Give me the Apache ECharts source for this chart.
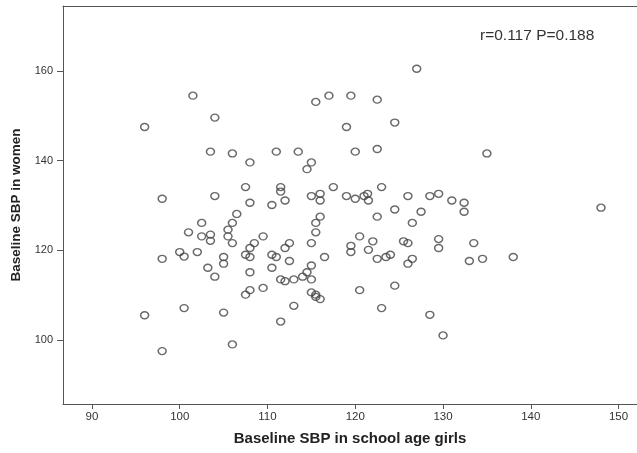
<!DOCTYPE html>
<html>
<head>
<meta charset="utf-8">
<script src="https://cdn.jsdelivr.net/npm/echarts@6/dist/echarts.min.js"></script>
<style>html,body{margin:0;padding:0;background:#fff;}#c{width:637px;height:453px;}</style>
</head>
<body>
<div id="c"></div>
<script>
const xTicks = [90, 100, 110, 120, 130, 140, 150];
const yTicks = [100, 120, 140, 160];
const xTitle = 'Baseline SBP in school age girls';
const yTitle = 'Baseline SBP in women';
const statText = 'r=0.117 P=0.188';

const baseGirls = [
  96.0, 101.5, 104.0, 98.0, 103.5, 106.0, 108.0, 104.0, 107.5, 108.0,
  106.5, 106.0, 102.5, 111.0, 111.5, 111.5, 110.5, 112.0, 113.5, 115.0,
  114.5, 115.5, 115.0, 115.5, 101.0, 127.0, 117.0, 119.5, 122.5, 119.0,
  124.5, 120.0, 122.5, 135.0, 117.5, 123.0, 116.0, 116.0, 119.0, 120.0,
  121.0, 121.4, 121.5, 126.0, 128.5, 129.5, 131.0, 132.4, 132.4, 122.5,
  124.5, 127.5, 126.5, 116.0, 148.0, 102.5, 103.5, 103.5, 105.5, 105.5,
  106.0, 100.0, 100.5, 98.0, 102.0, 103.2, 104.0, 105.0, 105.0, 107.5,
  108.0, 108.0, 108.5, 108.0, 109.5, 110.5, 111.0, 110.5, 112.0, 112.5,
  112.5, 111.5, 112.0, 113.0, 114.0, 114.5, 115.0, 115.0, 115.0, 115.5,
  109.5, 108.0, 107.5, 115.0, 115.5, 115.5, 116.0, 113.0, 111.5, 105.0,
  100.5, 96.0, 106.0, 98.0, 116.5, 119.5, 119.5, 120.5, 121.5, 122.0,
  122.5, 123.5, 124.0, 125.5, 126.0, 126.5, 126.0, 129.5, 129.5, 133.5,
  133.0, 134.5, 138.0, 120.5, 124.5, 123.0, 128.5, 130.0
];
const baseWomen = [
  147.5, 154.5, 149.6, 131.5, 142.0, 141.6, 139.6, 132.1, 134.1, 130.6,
  128.1, 126.1, 126.1, 142.0, 134.1, 133.1, 130.1, 131.1, 142.0, 139.6,
  138.1, 153.1, 132.1, 126.1, 124.0, 160.5, 154.5, 154.5, 153.6, 147.5,
  148.5, 142.0, 142.6, 141.6, 134.1, 134.1, 132.6, 131.1, 132.1, 131.5,
  132.1, 132.6, 131.1, 132.1, 132.1, 132.6, 131.1, 130.6, 128.6, 127.5,
  129.1, 128.6, 126.1, 127.5, 129.5, 123.1, 123.5, 122.1, 124.6, 123.1,
  121.6, 119.6, 118.6, 118.1, 119.6, 116.1, 114.1, 118.5, 117.0, 119.0,
  120.5, 118.5, 121.6, 115.1, 123.1, 119.0, 118.5, 116.1, 120.5, 121.6,
  117.6, 113.5, 113.1, 113.5, 114.1, 115.1, 113.5, 116.6, 121.6, 124.0,
  111.6, 111.1, 110.1, 110.6, 110.1, 109.6, 109.1, 107.6, 104.1, 106.1,
  107.1, 105.5, 99.0, 97.5, 118.5, 121.0, 119.6, 123.1, 120.1, 122.0,
  118.1, 118.5, 119.0, 122.0, 121.6, 118.1, 117.0, 122.5, 120.5, 121.6,
  117.6, 118.1, 118.5, 111.1, 112.1, 107.1, 105.6, 101.0
];

const points = baseGirls.map((x, i) => [x, baseWomen[i]]);
const FONT = "'Liberation Sans', Arial, sans-serif";
const AXIS_COLOR = '#555';

const chart = echarts.init(document.getElementById('c'), null, {renderer: 'canvas'});
chart.setOption({
  animation: false,
  backgroundColor: '#fff',
  grid: {left: 63, right: 0, top: 6, bottom: 49},
  xAxis: [{
    type: 'value', min: 86.7, max: 152.1,
    name: xTitle, nameLocation: 'middle', nameGap: 27,
    nameTextStyle: {fontFamily: FONT, fontSize: 15, fontWeight: 'bold', color: '#222'},
    splitLine: {show: false},
    axisLine: {show: true, onZero: false, lineStyle: {color: AXIS_COLOR, width: 1}},
    axisTick: {show: true, length: 5, customValues: xTicks, lineStyle: {color: AXIS_COLOR}},
    axisLabel: {customValues: xTicks, margin: 7, fontFamily: FONT, fontSize: 11.5, color: '#333'}
  }, {
    type: 'value', position: 'top', min: 86.7, max: 152.1,
    splitLine: {show: false},
    axisLine: {show: true, onZero: false, lineStyle: {color: AXIS_COLOR, width: 1}},
    axisTick: {show: false}, axisLabel: {show: false}
  }],
  yAxis: {
    type: 'value', min: 85.7, max: 174.5,
    name: yTitle, nameLocation: 'middle', nameGap: 37,
    nameTextStyle: {fontFamily: FONT, fontSize: 13.5, fontWeight: 'bold', color: '#222'},
    splitLine: {show: false},
    axisLine: {show: true, onZero: false, lineStyle: {color: AXIS_COLOR, width: 1}},
    axisTick: {show: true, length: 6, customValues: yTicks, lineStyle: {color: AXIS_COLOR}},
    axisLabel: {customValues: yTicks, margin: 10, fontFamily: FONT, fontSize: 11, color: '#333'}
  },
  graphic: [{
    type: 'text', left: 480, top: 28,
    style: {text: statText, font: "15.5px 'Liberation Sans', Arial, sans-serif", fill: '#333'}
  }],
  series: [{
    type: 'scatter',
    xAxisIndex: 0,
    data: points,
    symbol: 'circle',
    symbolSize: [8, 7],
    itemStyle: {color: 'rgba(0,0,0,0)', borderColor: '#444', borderWidth: 1.4}
  }]
});
</script>
</body>
</html>
